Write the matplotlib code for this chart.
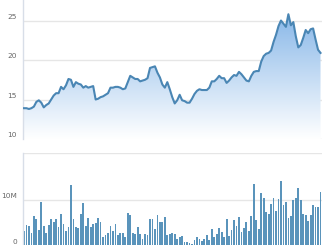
import numpy as np
import matplotlib
matplotlib.use("Agg")
import matplotlib.pyplot as plt
from matplotlib.colors import LinearSegmentedColormap

# Closing price, one value per trading day
price = [
    13.9, 13.9, 13.8, 13.9, 14.1, 14.7, 14.9, 14.6, 14.0, 14.3,
    14.5, 15.0, 15.5, 15.8, 15.8, 16.6, 16.3, 16.8, 17.6, 17.5,
    16.6, 17.2, 17.0, 16.9, 16.5, 16.7, 16.5, 16.6, 16.7, 15.0,
    15.1, 15.3, 15.4, 15.6, 15.8, 16.5, 16.5, 16.6, 16.6, 16.5,
    16.3, 16.4, 17.2, 18.0, 17.8, 17.6, 17.6, 17.3, 17.4, 17.5,
    17.7, 19.0, 19.1, 19.2, 18.4, 17.8, 16.9, 16.5, 17.2, 16.3,
    15.3, 14.5, 14.9, 15.6, 14.9, 14.8, 14.6, 14.6, 15.1, 15.7,
    16.1, 16.3, 16.2, 16.2, 16.2, 16.5, 17.3, 17.3, 17.6, 18.0,
    17.7, 17.7, 17.1, 17.4, 17.8, 18.1, 18.0, 18.5, 18.2, 17.8,
    17.4, 17.3, 18.0, 18.5, 18.6, 18.6, 19.8, 20.5, 20.8, 20.9,
    21.2, 22.3, 23.2, 24.3, 25.0, 24.6, 24.2, 25.8, 24.4, 24.8,
    23.0, 21.6, 21.9, 22.8, 23.8, 23.4, 23.9, 24.0, 22.6, 21.3,
    20.9,
]

# Daily volume, millions of shares
volume_m = [
    3.3, 4.6, 4.3, 2.9, 6.5, 5.8, 3.4, 9.4, 4.3, 2.9,
    4.5, 5.9, 5.2, 5.8, 4.0, 6.9, 4.7, 3.2, 4.1, 13.2,
    5.9, 4.1, 3.8, 6.9, 9.3, 4.4, 6.1, 4.1, 4.7, 4.9,
    6.1, 5.2, 1.9, 2.4, 2.9, 4.3, 3.2, 4.7, 2.4, 2.9,
    2.9, 1.9, 7.0, 6.7, 2.7, 2.6, 4.0, 2.6, 1.5, 2.6,
    2.4, 5.9, 5.7, 3.6, 6.7, 5.2, 5.2, 6.3, 2.3, 2.5,
    2.8, 2.6, 1.5, 2.0, 2.2, 0.9, 0.9, 0.6, 0.4, 1.3,
    2.0, 1.4, 1.1, 1.6, 2.4, 1.3, 3.6, 2.0, 2.6, 3.8,
    3.1, 2.0, 5.7, 2.1, 3.4, 5.5, 4.2, 6.3, 3.1, 3.9,
    5.2, 3.2, 6.4, 13.4, 5.6, 3.6, 11.5, 10.4, 7.4, 6.9,
    9.0, 10.4, 7.5, 10.2, 13.9, 8.9, 9.4, 6.1, 6.4, 9.9,
    10.4, 12.5, 10.0, 6.9, 6.7, 5.4, 6.7, 8.8, 8.4, 8.4,
    11.7,
]

price_ticks = [10, 15, 20, 25]
price_labels = ["10", "15", "20", "25"]
volume_ticks = [0, 10e6]
volume_labels = ["0", "10M"]

LINE = "#4a86b4"
BAR = "#5a94bb"
GRID = "#e6e6e6"
AXIS = "#d8dee8"
TEXT = "#666666"

plt.rcParams["font.family"] = ["DejaVu Sans"]

W, H = 326, 245
fig = plt.figure(figsize=(W / 100, H / 100), dpi=100)


def px_axes(left, top, right, bottom):
    return fig.add_axes([left / W, 1 - bottom / H, (right - left) / W, (bottom - top) / H])


days = np.arange(len(price))
vol = np.array(volume_m) * 1e6
xlim = (-0.4, len(price) - 0.4)

# price panel
ax = px_axes(23, 0, 322, 139)
ax.set_xlim(*xlim)
ax.set_ylim(10, 27.6)
cmap = LinearSegmentedColormap.from_list("fade", ["#ffffff", "#7cb0e6"])
grad = np.linspace(0, 1, 256).reshape(-1, 1)
img = ax.imshow(grad, cmap=cmap, aspect="auto", origin="lower",
                extent=(xlim[0], xlim[1], 10, 27.6), zorder=1)
poly = ax.fill_between(days, price, 10, color="none", lw=0)
img.set_clip_path(poly.get_paths()[0], transform=ax.transData)
ax.plot(days, price, color=LINE, lw=1.5, zorder=3, solid_joinstyle="round")

# volume panel
bx = px_axes(23, 153, 322, 246)
bx.set_xlim(*xlim)
bx.set_ylim(0, 20e6)
bx.bar(days, vol, width=0.72, color=BAR, lw=0, zorder=2)

for a, ticks, labels, grid in [
    (ax, price_ticks, price_labels, price_ticks),
    (bx, volume_ticks, volume_labels, [0, 10e6, 20e6]),
]:
    for s in ["top", "right", "bottom"]:
        a.spines[s].set_visible(False)
    a.spines["left"].set_color(AXIS)
    a.spines["left"].set_linewidth(1)
    a.set_xticks([])
    a.set_yticks([])
    for g in grid:
        a.axhline(g, color=GRID, lw=1, zorder=0)
    for t, lab in zip(ticks, labels):
        a.annotate(lab, xy=(0, t), xycoords=("axes fraction", "data"),
                   xytext=(-6, 4), textcoords="offset pixels",
                   ha="right", va="center", fontsize=5.3, color=TEXT,
                   annotation_clip=False)

fig.savefig("out.png", dpi=100)
